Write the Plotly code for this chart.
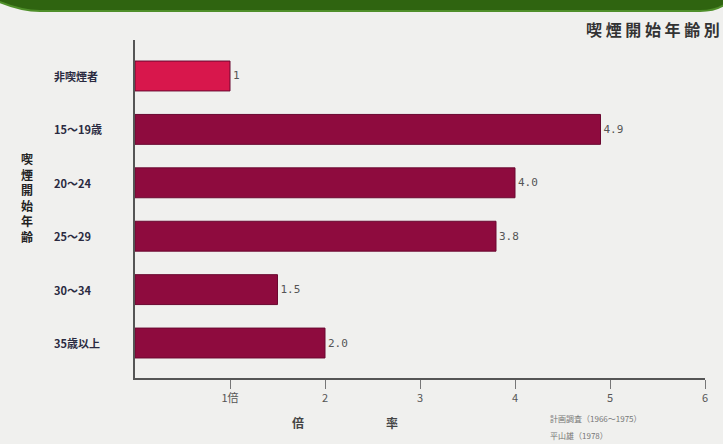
import plotly.graph_objects as go

categories = ["非喫煙者", "15～19歳", "20～24", "25～29", "30～34", "35歳以上"]
values = [1.0, 4.9, 4.0, 3.8, 1.5, 2.0]
value_labels = ["1", "4.9", "4.0", "3.8", "1.5", "2.0"]
x_ticks = [1, 2, 3, 4, 5, 6]
x_tick_labels = ["1倍", "2", "3", "4", "5", "6"]
colors = ["#d8174c", "#8e0b3e", "#8e0b3e", "#8e0b3e", "#8e0b3e", "#8e0b3e"]

W, H = 723, 444
L, R, T, B = 135, 18, 40, 66  # plot area 135..705 x 40..378
pw, ph = W - L - R, H - T - B

def px(x):
    return (x - L) / pw

def py(y):
    return (H - B - y) / ph

fig = go.Figure()
fig.add_trace(go.Bar(
    x=values, y=categories, orientation="h",
    marker=dict(color=colors, line=dict(color="#6a0830", width=1)),
    width=0.56,
    text=value_labels, textposition="outside",
    textfont=dict(family="DejaVu Sans Mono", size=11, color="#555555"),
    cliponaxis=False,
))

fig.update_layout(
    width=W, height=H,
    margin=dict(l=L, r=R, t=T, b=B),
    paper_bgcolor="#f0f0ee", plot_bgcolor="#f0f0ee",
    showlegend=False,
    bargap=0.44,
    xaxis=dict(
        range=[0, 6], tickvals=x_ticks, ticktext=x_tick_labels,
        showgrid=False, zeroline=False,
        showline=True, linecolor="#555555", linewidth=2,
        ticks="outside", ticklen=9, tickcolor="#777777", tickwidth=1,
        tickfont=dict(family="Noto Sans CJK JP", size=11, color="#555555"),
    ),
    yaxis=dict(
        type="category", categoryarray=categories,
        range=[5.655, -0.674],
        showgrid=False, zeroline=False,
        showline=True, linecolor="#555555", linewidth=2,
        showticklabels=False, ticks="",
    ),
)

# category labels, left aligned
for i, c in enumerate(categories):
    fig.add_annotation(x=px(52), y=c, xref="paper", yref="y", text="<b>%s</b>" % c,
                       showarrow=False, xanchor="left", yanchor="middle",
                       font=dict(family="Noto Sans CJK JP", size=11, color="#2a2a40"))

# vertical y title
fig.add_annotation(x=px(19), y=py(198), xref="paper", yref="paper",
                   text="<b>喫<br>煙<br>開<br>始<br>年<br>齢</b>", showarrow=False,
                   yanchor="middle",
                   font=dict(family="Noto Sans CJK JP", size=12, color="#222222"),
                   align="center")

# title
fig.add_annotation(x=px(722), y=py(29), xref="paper", yref="paper",
                   text="<b>喫 煙 開 始 年 齢 別</b>", showarrow=False,
                   xanchor="right", yanchor="middle",
                   font=dict(family="Noto Sans CJK JP", size=16, color="#333333"))

# x axis title chars
fig.add_annotation(x=px(290), y=py(422), xref="paper", yref="paper", text="<b>倍</b>",
                   showarrow=False, yanchor="middle",
                   font=dict(family="Noto Sans CJK JP", size=12, color="#444444"))
fig.add_annotation(x=px(392), y=py(422), xref="paper", yref="paper", text="<b>率</b>",
                   showarrow=False, yanchor="middle",
                   font=dict(family="Noto Sans CJK JP", size=12, color="#444444"))

# source
fig.add_annotation(x=px(548), y=py(418), xref="paper", yref="paper",
                   text="計画調査（1966～1975）", showarrow=False,
                   xanchor="left", yanchor="middle",
                   font=dict(family="Noto Sans CJK JP", size=8, color="#777777"))
fig.add_annotation(x=px(548), y=py(435), xref="paper", yref="paper",
                   text="平山雄（1978）", showarrow=False,
                   xanchor="left", yanchor="middle",
                   font=dict(family="Noto Sans CJK JP", size=8, color="#777777"))

# green band at top
path = "M %f %f L %f %f L %f %f Q %f %f %f %f L %f %f Q %f %f %f %f Z" % (
    px(-5), py(-5), px(730), py(-5), px(730), py(0),
    px(720), py(11), px(700), py(11),
    px(40), py(11), px(20), py(11), px(-5), py(0))
fig.add_shape(type="path", path=path, xref="paper", yref="paper",
              fillcolor="#2f6410", line=dict(color="#4f8f2a", width=2), layer="above")

fig.write_html("out.html")
